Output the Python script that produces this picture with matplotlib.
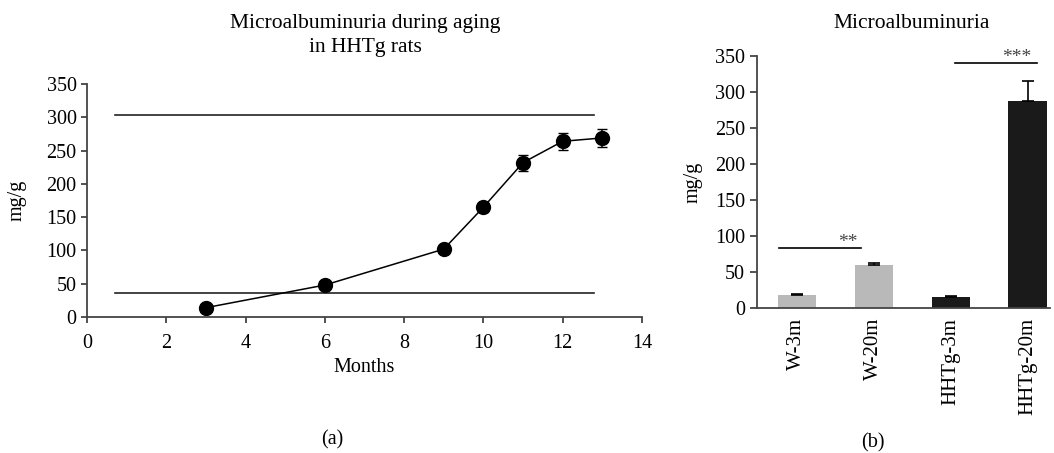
import numpy as np
import matplotlib
matplotlib.use("Agg")
import matplotlib.pyplot as plt

plt.rcParams['font.family'] = ['Liberation Serif', 'DejaVu Serif']

# panel (a): microalbuminuria vs age
months = [3, 6, 9, 10, 11, 12, 13]
mau = [14, 48, 102, 165, 232, 264, 269]
mau_err = [4, 5, 5, 7, 12, 13, 13]
ref_levels = [303, 36]
ref_span = [0.7, 12.8]

# panel (b): bar chart
groups = ['W-3m', 'W-20m', 'HHTg-3m', 'HHTg-20m']
bar_vals = [18, 60, 15, 288]
bar_err = [2, 3, 1.5, 27]
bar_colors = ['#b9b9b9', '#b9b9b9', '#1a1a1a', '#1a1a1a']
sig_lines = [(-0.23, 0.83, 83, '**', 0.66), (2.05, 3.12, 340, '***', 2.86)]

fig = plt.figure(figsize=(10.54, 4.53), dpi=100)
spine_col = '#444444'

ax1 = fig.add_axes([0.0825, 0.3002, 0.5266, 0.5143])
for lvl in ref_levels:
    ax1.plot(ref_span, [lvl, lvl], color='#222222', lw=1.2)
ax1.errorbar(months, mau, yerr=mau_err, color='black', lw=1.1, marker='o',
             markersize=10, capsize=3.5, elinewidth=1.1)
ax1.set_xlim(0, 14)
ax1.set_ylim(0, 350)
ax1.set_xticks(range(0, 15, 2))
ax1.set_yticks(range(0, 351, 50))
ax1.set_xlabel('Months', fontsize=14.5, labelpad=4)
for s in ['top', 'right']:
    ax1.spines[s].set_visible(False)
for s in ['left', 'bottom']:
    ax1.spines[s].set_color(spine_col)
    ax1.spines[s].set_linewidth(1.3)
ax1.tick_params(labelsize=14.5, color=spine_col, length=4, width=1.3)
ax1.tick_params(axis='x', pad=8)
fig.text(17 / 1054, 0.558, 'mg/g', rotation=90, fontsize=14.5,
         ha='center', va='center')
fig.text(365 / 1054, 1 - 35.5 / 453, 'Microalbuminuria during aging\nin HHTg rats',
         fontsize=15.5, ha='center', va='center', linespacing=1.38)
fig.text(332 / 1054, 1 - 440 / 453, '(a)', fontsize=14.5, ha='center', va='center')

ax2 = fig.add_axes([0.7182, 0.3201, 0.278, 0.5563])
x = np.arange(len(groups))
ax2.bar(x, bar_vals, width=0.5, color=bar_colors)
ax2.errorbar(x, bar_vals, yerr=[np.zeros(len(bar_err)), bar_err], fmt='none',
             ecolor='black', capsize=4.5, elinewidth=1.2, capthick=1.2)
for x0, x1, yv, lab, xs in sig_lines:
    ax2.plot([x0, x1], [yv, yv], color='black', lw=1.2)
    ax2.text(xs, yv - 4, lab, ha='center', va='bottom', fontsize=14,
             color='#444444')
ax2.set_xlim(-0.52, 3.29)
ax2.set_ylim(0, 350)
ax2.set_yticks(range(0, 351, 50))
ax2.set_xticks(x)
ax2.set_xticklabels(groups, rotation=90)
for s in ['top', 'right']:
    ax2.spines[s].set_visible(False)
for s in ['left', 'bottom']:
    ax2.spines[s].set_color(spine_col)
    ax2.spines[s].set_linewidth(1.3)
ax2.tick_params(axis='y', labelsize=14.5, length=5, width=1.3, color=spine_col)
ax2.tick_params(axis='x', labelsize=15, length=0, pad=7)
fig.text(693 / 1054, 0.598, 'mg/g', rotation=90, fontsize=14.5,
         ha='center', va='center')
fig.text(912 / 1054, 1 - 23 / 453, 'Microalbuminuria', fontsize=15.5,
         ha='center', va='center')
fig.text(873 / 1054, 1 - 443 / 453, '(b)', fontsize=14.5, ha='center', va='center')

fig.savefig('out.png', dpi=100)
